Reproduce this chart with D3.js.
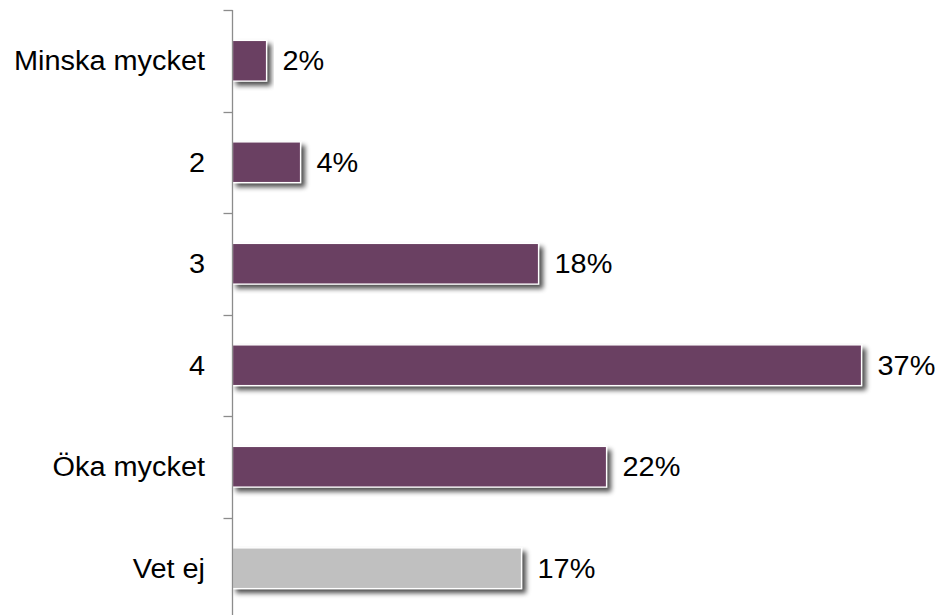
<!DOCTYPE html>
<html>
<head>
<meta charset="utf-8">
<script src="https://cdn.jsdelivr.net/npm/d3@7"></script>
<style>
  html, body { margin: 0; padding: 0; background: #fff; }
  svg { display: block; }
  text { font-family: "Liberation Sans", Arial, sans-serif; fill: #000; }
</style>
</head>
<body>
<svg id="chart" width="935" height="615"></svg>
<script>
// Survey answers, top to bottom
const categories = ["Minska mycket", "2", "3", "4", "Öka mycket", "Vet ej"];
const shares = [2, 4, 18, 37, 22, 17];
const barColors = ["#6b3f62", "#6b3f62", "#6b3f62", "#6b3f62", "#6b3f62", "#c0c0c0"];

const svg = d3.select("#chart");
const axisX = 232.5;
const plotTop = 10;
const band = 101.5;
const textStretch = 1.07;

const y = d3.scaleBand()
  .domain(categories)
  .range([plotTop, plotTop + band * categories.length])
  .paddingInner(0.6)
  .paddingOuter(0.3);

const x = d3.scaleLinear()
  .domain([0, 40])
  .range([axisX, axisX + 40 * 17.0]);

// Soft drop shadow beneath each bar
const defs = svg.append("defs");
const f = defs.append("filter").attr("id", "shadow")
  .attr("x", "-10%").attr("y", "-30%").attr("width", "130%").attr("height", "180%");
f.append("feGaussianBlur").attr("in", "SourceAlpha").attr("stdDeviation", 2.4).attr("result", "b");
f.append("feOffset").attr("in", "b").attr("dx", 3.5).attr("dy", 3.5).attr("result", "o");
f.append("feComponentTransfer").attr("in", "o").attr("result", "s")
  .append("feFuncA").attr("type", "linear").attr("slope", 0.7);
const m = f.append("feMerge");
m.append("feMergeNode").attr("in", "s");
m.append("feMergeNode").attr("in", "SourceGraphic");

const rows = categories.map((c, i) => ({ c, v: shares[i], col: barColors[i] }));

svg.selectAll("rect.bar").data(rows).join("rect")
  .attr("class", "bar")
  .attr("x", x(0))
  .attr("y", d => y(d.c))
  .attr("width", d => x(d.v) - x(0))
  .attr("height", y.bandwidth())
  .attr("fill", d => d.col)
  .attr("stroke", "#fff")
  .attr("stroke-width", 1.2)
  .attr("filter", "url(#shadow)");

// Category axis with ticks between bands
const axisG = svg.append("g");
axisG.append("line")
  .attr("x1", axisX).attr("x2", axisX)
  .attr("y1", plotTop).attr("y2", 615)
  .attr("stroke", "#8c8c8c").attr("stroke-width", 1.3);
d3.range(categories.length + 1).forEach(i => {
  const ty = Math.round(plotTop + band * i) + 0.5;
  axisG.append("line")
    .attr("x1", axisX - 9).attr("x2", axisX)
    .attr("y1", ty).attr("y2", ty)
    .attr("stroke", "#8c8c8c").attr("stroke-width", 1.3);
});

const midY = d => y(d.c) + y.bandwidth() / 2;

svg.selectAll("text.cat").data(rows).join("text")
  .attr("class", "cat")
  .attr("transform", d => `translate(205,${midY(d)}) scale(${textStretch},1)`)
  .attr("dy", "0.36em")
  .attr("text-anchor", "end")
  .attr("font-size", 27)
  .text(d => d.c);

svg.selectAll("text.val").data(rows).join("text")
  .attr("class", "val")
  .attr("transform", d => `translate(${x(d.v) + 16},${midY(d)}) scale(${textStretch},1)`)
  .attr("dy", "0.36em")
  .attr("font-size", 27)
  .text(d => d.v + "%");
</script>
</body>
</html>
